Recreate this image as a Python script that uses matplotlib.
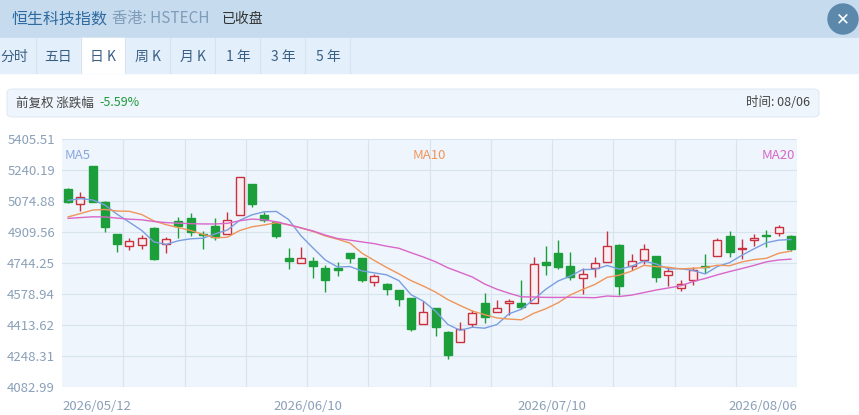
import matplotlib.pyplot as plt
import matplotlib.patches as mpatches
import numpy as np
import pandas as pd

plt.rcParams['font.family'] = ['Noto Sans CJK SC', 'DejaVu Sans']

# closes before the visible window, only used to warm up the moving averages
prev_close = [5009.8, 4988.4, 4956.3, 4965.2, 4977.7, 4938.5, 4947.4, 4992.0, 5000.9, 4965.2,
              4920.7, 4885.1, 4902.9, 4929.6, 4876.1, 5045.4, 5107.8, 5072.2, 5091.8]

opens = [5138.1, 5058.0, 5262.9, 5072.2, 4901.1, 4836.9, 4840.5, 4929.6, 4845.8, 4967.0,
         4983.1, 4899.3, 4942.1, 4897.5, 4999.1, 5164.9, 5000.9, 4961.7, 4772.7, 4744.2,
         4753.1, 4719.3, 4719.3, 4795.9, 4772.7, 4640.8, 4631.9, 4601.6, 4557.1, 4421.6,
         4501.8, 4378.8, 4321.8, 4416.3, 4530.3, 4484.0, 4528.6, 4530.3, 4528.6, 4747.8,
         4797.7, 4726.4, 4662.2, 4717.5, 4751.3, 4838.7, 4728.2, 4758.5, 4783.4, 4680.1,
         4610.5, 4651.5, 4730.0, 4779.9, 4888.6, 4820.9, 4865.4, 4895.7, 4902.8, 4888.6]
closes = [5072.2, 5093.6, 5072.2, 4938.5, 4844.1, 4860.1, 4876.1, 4765.6, 4870.8, 4942.1,
          4911.8, 4892.2, 4881.5, 4972.4, 5200.5, 5058.0, 4974.2, 4890.4, 4756.7, 4770.9,
          4726.4, 4655.1, 4705.0, 4769.2, 4653.3, 4674.7, 4603.4, 4550.0, 4393.1, 4482.2,
          4403.8, 4254.1, 4391.3, 4476.8, 4457.2, 4501.8, 4541.0, 4510.7, 4737.1, 4731.8,
          4721.0, 4671.1, 4685.4, 4742.4, 4835.1, 4621.2, 4753.1, 4819.1, 4667.6, 4701.4,
          4630.1, 4705.0, 4724.6, 4867.2, 4804.8, 4826.2, 4877.9, 4886.8, 4935.0, 4820.9]
highs = [5143.5, 5123.9, 5262.9, 5075.7, 4901.1, 4879.7, 4892.2, 4934.9, 4881.5, 4988.4,
         5009.8, 4915.3, 4983.1, 5018.7, 5204.1, 5164.9, 5015.1, 4970.6, 4822.7, 4828.0,
         4774.5, 4733.5, 4751.3, 4795.9, 4772.7, 4685.4, 4639.1, 4601.6, 4557.1, 4542.8,
         4501.8, 4382.4, 4430.5, 4492.9, 4583.8, 4548.9, 4554.2, 4653.3, 4776.3, 4835.1,
         4865.4, 4801.3, 4719.3, 4778.1, 4915.3, 4845.8, 4790.6, 4845.8, 4783.4, 4724.6,
         4653.3, 4724.6, 4790.6, 4877.9, 4917.1, 4874.3, 4897.5, 4920.7, 4949.2, 4894.0]
lows = [5066.8, 5022.3, 5072.2, 4911.8, 4804.8, 4813.7, 4820.9, 4760.3, 4799.5, 4876.1,
        4890.4, 4817.3, 4867.2, 4897.5, 4999.1, 5045.4, 4965.2, 4876.1, 4712.1, 4744.2,
        4662.2, 4590.9, 4676.5, 4742.4, 4642.6, 4621.2, 4571.3, 4516.1, 4382.4, 4416.3,
        4355.6, 4232.7, 4321.8, 4403.8, 4425.9, 4484.0, 4464.4, 4498.2, 4528.6, 4681.8,
        4710.4, 4655.1, 4576.7, 4667.6, 4751.3, 4574.9, 4706.8, 4737.1, 4644.4, 4623.0,
        4596.3, 4626.6, 4689.0, 4779.9, 4778.1, 4763.8, 4836.9, 4831.6, 4886.8, 4810.2]
yticks = [4082.99, 4248.31, 4413.62, 4578.94, 4744.25, 4909.56, 5074.88, 5240.19, 5405.51]
date_labels = ['2026/05/12', '2026/06/10', '2026/07/10', '2026/08/06']

W, H = 859, 415
fig = plt.figure(figsize=(W / 100, H / 100), dpi=100)
fig.patch.set_facecolor('white')


def px(x, y):
    return x / W, 1 - y / H


# header bar
fig.add_artist(mpatches.Rectangle(px(0, 38), 1, 38 / H, color='#c6dcee', transform=fig.transFigure))
fig.text(*px(12, 19), '恒生科技指数', fontsize=11.5, color='#2f6aa0', va='center')
fig.text(*px(112, 19), '香港: HSTECH', fontsize=11, color='#7f9cb8', va='center')
fig.text(*px(222, 19), '已收盘', fontsize=10, color='#333333', va='center')
fig.add_artist(mpatches.Ellipse(px(843, 19), 30 / W, 30 / H, color='#5b88ab', transform=fig.transFigure))
fig.text(*px(843, 19), '✕', fontsize=12, color='white', ha='center', va='center',
         family=['DejaVu Sans'], weight='bold')

# tabs
fig.add_artist(mpatches.Rectangle(px(0, 73), 1, 35 / H, color='#e3effb', transform=fig.transFigure))
fig.add_artist(mpatches.Rectangle(px(81, 73), 44 / W, 35 / H, color='white', transform=fig.transFigure))
tabs = ['分时', '五日', '日 K', '周 K', '月 K', '1 年', '3 年', '5 年']
tab_x = [14, 58, 103, 148, 193, 238, 283, 328]
for t, x in zip(tabs, tab_x):
    fig.text(*px(x, 57), t, fontsize=10, color='#3a5f85', ha='center', va='center')
for x in [36, 81, 125, 170, 215, 260, 305, 350]:
    fig.add_artist(plt.Line2D([x / W, x / W], [1 - 73 / H, 1 - 38 / H], color='#d5e3f0', lw=0.8))

# info bar
fig.add_artist(mpatches.FancyBboxPatch(px(7, 117), 812 / W, 28 / H, boxstyle='round,pad=0,rounding_size=0.008',
                                       fc='#eef5fc', ec='#e2ebf3', lw=0.8, transform=fig.transFigure))
fig.text(*px(16, 103), '前复权 涨跌幅', fontsize=9, color='#444444', va='center')
fig.text(*px(99, 103), '-5.59%', fontsize=9, color='#1f9a3a', va='center')
fig.text(*px(810, 103), '时间: 08/06', fontsize=9, color='#444444', va='center', ha='right')

# chart
ax = fig.add_axes([62 / W, (H - 387) / H, 735 / W, 248 / H])
ax.set_facecolor('#eef5fc')
n = len(closes)
x = np.arange(n)
ax.set_xlim(-0.5, n - 0.5)
ax.set_ylim(yticks[0], yticks[-1])
ax.set_yticks(yticks)
ax.set_yticklabels([f'{v:.2f}' for v in yticks])
ax.set_xticks(np.arange(4.5, n, 5))
ax.set_xticklabels([])
ax.grid(True, color='#d8e3ee', lw=0.8)
ax.tick_params(length=0, labelsize=9.5, labelcolor='#8aa0b8', pad=5)
for s in ax.spines.values():
    s.set_visible(False)
ax.set_axisbelow(True)

up_c, dn_c = '#c8323f', '#1c9f3a'
for i in x:
    o, c, h, l = opens[i], closes[i], highs[i], lows[i]
    col = up_c if c >= o else dn_c
    ax.vlines(i, l, h, color=col, lw=1, zorder=2)
    bottom, top = min(o, c), max(o, c)
    hgt = max(top - bottom, 3)
    if c >= o:
        ax.add_patch(mpatches.Rectangle((i - 0.32, bottom), 0.64, hgt, fc='#fbeef2', ec=up_c, lw=1, zorder=3))
    else:
        ax.add_patch(mpatches.Rectangle((i - 0.32, bottom), 0.64, hgt, fc=dn_c, ec=dn_c, lw=1, zorder=3))

s = pd.Series(prev_close + closes)
for w, col in [(5, '#7b9ee0'), (10, '#f0955a'), (20, '#d966c8')]:
    ma = s.rolling(w).mean().to_numpy()[len(prev_close):]
    ax.plot(x, ma, color=col, lw=1, zorder=4)

ax.text(0.003, 0.96, 'MA5', transform=ax.transAxes, color='#8aa6de', fontsize=9.5, va='top')
ax.text(0.5, 0.96, 'MA10', transform=ax.transAxes, color='#f0955a', fontsize=9.5, va='top', ha='center')
ax.text(0.997, 0.96, 'MA20', transform=ax.transAxes, color='#d966c8', fontsize=9.5, va='top', ha='right')

for lab, xp, ha in zip(date_labels, [62, 308, 552, 797], ['left', 'center', 'center', 'right']):
    fig.text(*px(xp, 406), lab, fontsize=9.5, color='#8aa0b8', ha=ha, va='center')

fig.savefig('out.png', dpi=100)
